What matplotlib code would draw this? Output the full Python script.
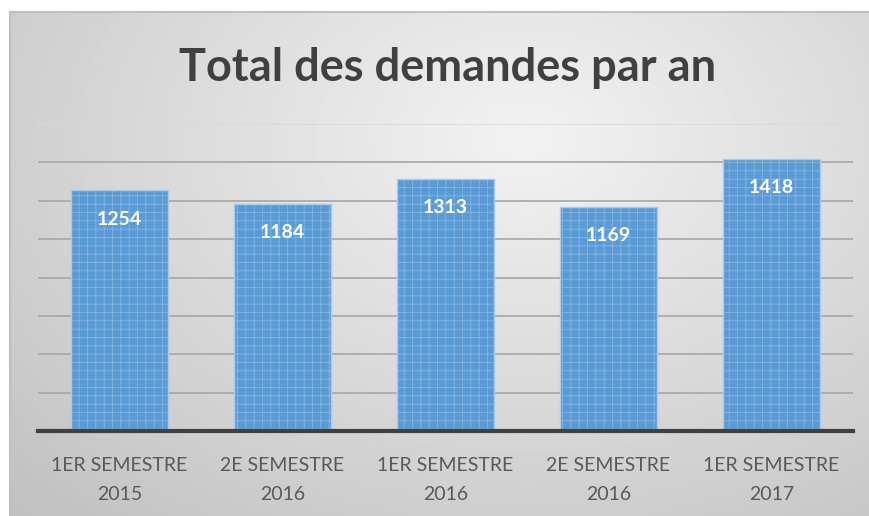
import matplotlib.pyplot as plt
import numpy as np

categories = ["1ER SEMESTRE\n2015", "2E SEMESTRE\n2016", "1ER SEMESTRE\n2016",
              "2E SEMESTRE\n2016", "1ER SEMESTRE\n2017"]
values = [1254, 1184, 1313, 1169, 1418]

plt.rcParams['font.family'] = ['Lato', 'DejaVu Sans']
plt.rcParams['hatch.linewidth'] = 0.6

fig = plt.figure(figsize=(8.69, 5.16), dpi=100, facecolor='white')

# fond en dégradé radial (zone du graphique)
bg = fig.add_axes([10 / 869, 0.0, 859 / 869, 1 - 12 / 516])
yy, xx = np.mgrid[0:1:300j, 0:1:500j]
r = np.sqrt(((xx - 0.6) / 0.75) ** 2 + ((yy - 0.75) / 0.9) ** 2)
shade = 0.95 - 0.17 * np.clip(r, 0, 1.2)
bg.imshow(shade, cmap='gray', vmin=0, vmax=1, aspect='auto',
          extent=[0, 1, 0, 1], origin='lower')
bg.set_xticks([])
bg.set_yticks([])
for side in ['right', 'bottom']:
    bg.spines[side].set_visible(False)
for side in ['left', 'top']:
    bg.spines[side].set_color('#bfbfbf')
    bg.spines[side].set_linewidth(1.5)

ax = fig.add_axes([38 / 869, 1 - 431 / 516, 815 / 869, (431 - 124) / 516])
ax.patch.set_alpha(0)

x = np.arange(len(values))
ax.bar(x, values, width=0.6, color='#5B9BD5', edgecolor='#86b6e3',
       hatch='++', linewidth=0.0, zorder=3)
ax.bar(x, values, width=0.6, color='none', edgecolor='#a9cbea',
       linewidth=1.0, zorder=4)

for xi, v in zip(x, values):
    ax.text(xi, v - 150, str(v), ha='center', va='center', color='white',
            fontsize=14, fontweight='bold', zorder=5)

ax.set_xlim(-0.5, len(values) - 0.5)
ax.set_ylim(0, 1600)
ax.set_yticks(np.arange(200, 1601, 200))
ax.yaxis.grid(True, color='#a6a6a6', linewidth=1.2, zorder=0)
ax.yaxis.get_gridlines()[-1].set_color('#d9d9d9')
ax.set_yticklabels([])
ax.tick_params(axis='y', length=0)
ax.set_xticks(x)
ax.set_xticklabels(categories, fontsize=14, color='#595959', linespacing=1.8)
ax.tick_params(axis='x', length=0, pad=19)
for side in ['left', 'right', 'top']:
    ax.spines[side].set_visible(False)
ax.spines['bottom'].set_color('#404040')
ax.spines['bottom'].set_linewidth(3)
ax.spines['bottom'].set_zorder(6)

fig.text(448 / 869, 1 - 68 / 516, "Total des demandes par an", ha='center',
         va='center', fontsize=32.5, fontweight='bold', color='#404040')

fig.savefig('out.png', dpi=100)
